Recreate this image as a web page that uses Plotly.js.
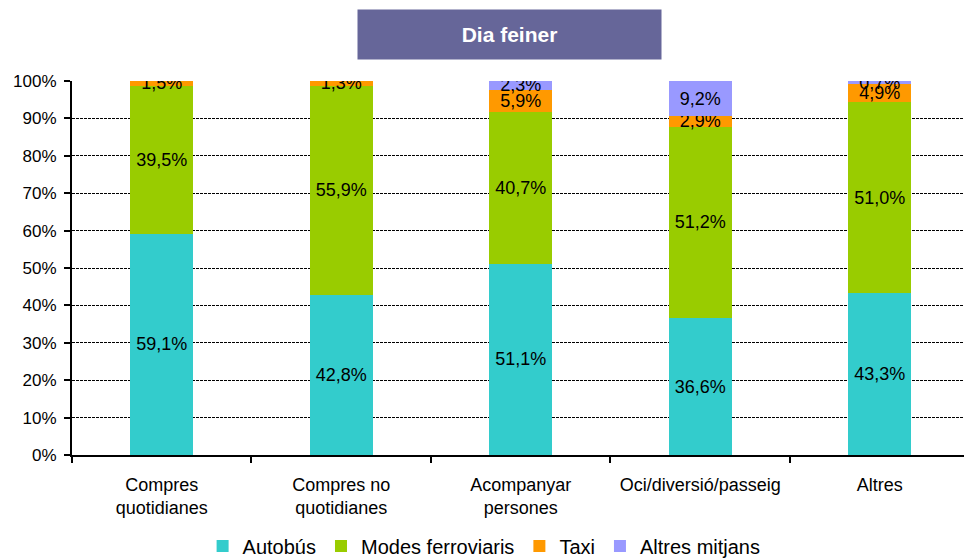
<!DOCTYPE html>
<html>
<head>
<meta charset="utf-8">
<script src="https://cdn.plot.ly/plotly-3.0.1.min.js"></script>
<style>html,body{margin:0;padding:0;background:#fff;}#chart{width:964px;height:560px;}</style>
</head>
<body>
<div id="chart"></div>
<script>
var categories = ["Compres<br>quotidianes", "Compres no<br>quotidianes", "Acompanyar<br>persones", "Oci/diversió/passeig", "Altres"];
var autobus = [59.1, 42.8, 51.1, 36.6, 43.3];
var ferroviaris = [39.5, 55.9, 40.7, 51.2, 51.0];
var taxi = [1.5, 1.3, 5.9, 2.9, 4.9];
var altres = [0, 0, 2.3, 9.2, 0.7];
var seriesNames = ["Autobús", "Modes ferroviaris", "Taxi", "Altres mitjans"];
var yTickVals = [0, 10, 20, 30, 40, 50, 60, 70, 80, 90, 100];
var yTickText = ["0%", "10%", "20%", "30%", "40%", "50%", "60%", "70%", "80%", "90%", "100%"];

var colors = ["#33CCCC", "#99CC00", "#FF9900", "#9999FF"];
var seriesData = [autobus, ferroviaris, taxi, altres];

function lbl(v) { return v > 0 ? v.toFixed(1).replace('.', ',') + '%' : ''; }

var traces = seriesData.map(function (vals, i) {
  return {
    type: 'bar',
    name: seriesNames[i],
    x: categories,
    y: vals,
    text: vals.map(lbl),
    textposition: 'inside',
    insidetextanchor: 'middle',
    constraintext: 'none',
    textangle: 0,
    insidetextfont: { family: 'Liberation Sans, Arial, sans-serif', size: 18, color: '#000' },
    marker: { color: colors[i], line: { width: 0 } },
    hoverinfo: 'none'
  };
});

var layout = {
  width: 964,
  height: 560,
  margin: { l: 72, r: 0, t: 81, b: 105, autoexpand: false },
  paper_bgcolor: '#fff',
  plot_bgcolor: '#fff',
  barmode: 'stack',
  bargap: 0.65,
  showlegend: true,
  font: { family: 'Liberation Sans, Arial, sans-serif', size: 17, color: '#000' },
  legend: {
    orientation: 'h',
    x: 0.462, xanchor: 'center',
    y: -0.243, yanchor: 'middle',
    font: { size: 20, color: '#000' },
    itemwidth: 30,
    traceorder: 'normal',
    itemclick: false
  },
  xaxis: {
    type: 'category',
    range: [-0.5, 4.47],
    showline: true,
    linecolor: '#000',
    linewidth: 2,
    ticks: 'outside',
    tickson: 'boundaries',
    ticklen: 6,
    tickwidth: 2,
    tickcolor: '#000',
    ticklabelstandoff: 12,
    showgrid: false,
    tickfont: { size: 18 },
    fixedrange: true
  },
  yaxis: {
    range: [0, 100],
    tickvals: yTickVals,
    ticktext: yTickText,
    showline: true,
    linecolor: '#000',
    linewidth: 2,
    ticks: 'outside',
    ticklen: 6,
    tickwidth: 2,
    tickcolor: '#000',
    ticklabelstandoff: 4,
    showgrid: true,
    gridcolor: '#000',
    gridwidth: 1,
    griddash: '3px,1px',
    zeroline: false,
    tickfont: { size: 17 },
    fixedrange: true
  },
  annotations: [{
    xref: 'paper', yref: 'paper',
    x: (509.5 - 72) / 892, y: (455 - 34.5) / 374,
    xanchor: 'center', yanchor: 'middle',
    text: '<b>Dia feiner</b>',
    showarrow: false,
    width: 303, height: 49,
    bgcolor: '#666699',
    borderpad: 0,
    font: { size: 21, color: '#fff', family: 'Liberation Sans, Arial, sans-serif' }
  }]
};

Plotly.newPlot('chart', traces, layout, { displayModeBar: false, staticPlot: true });
</script>
</body>
</html>
